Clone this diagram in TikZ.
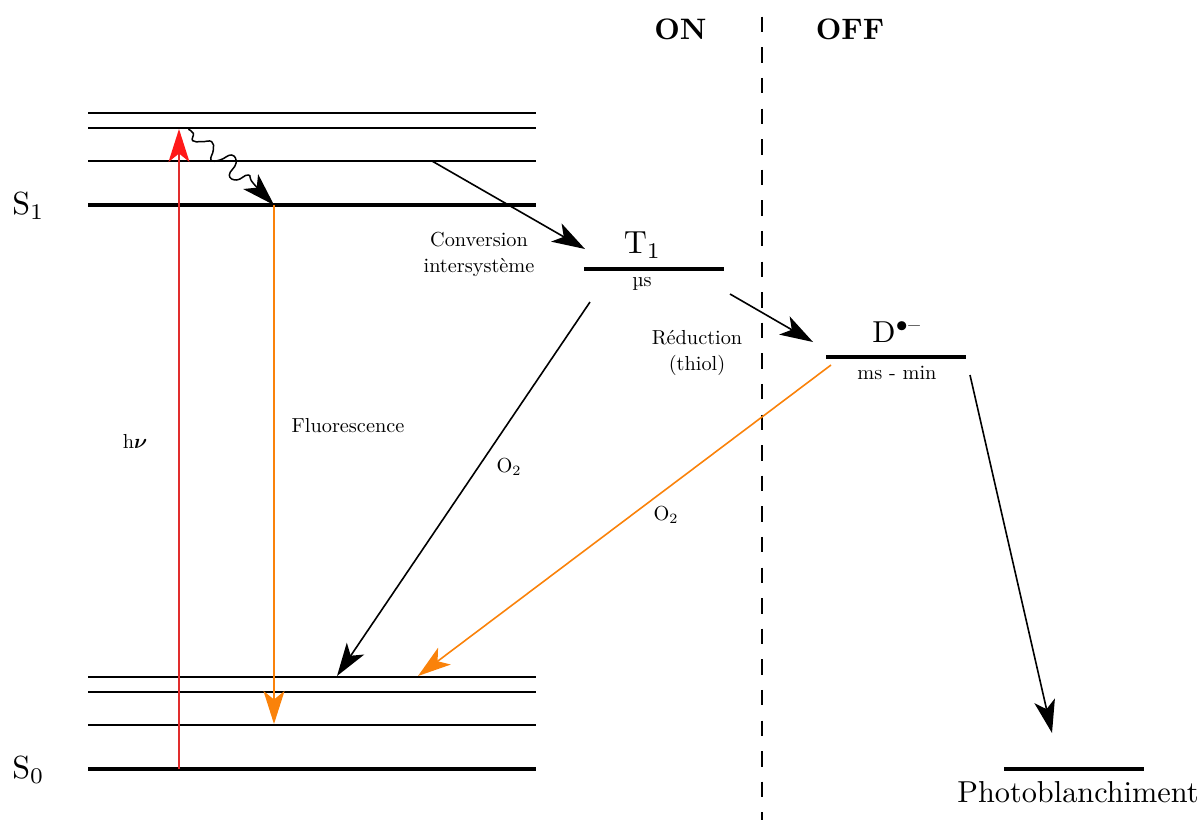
\documentclass[tikz,border=0pt]{standalone}
\usepackage{amsmath,amssymb}
\usetikzlibrary{arrows.meta}
\definecolor{flcol}{RGB}{250,130,10}
\definecolor{redline}{RGB}{225,45,45}
\definecolor{redhead}{RGB}{255,25,25}
\tikzset{
 thinlevel/.style={line width=1.5pt,black},
 thicklevel/.style={line width=3.2pt,black},
 bigtip/.style={-{Stealth[length=33pt,width=21pt,inset=8.5pt]}},
 conn/.style={line width=1.6pt,bigtip},
 lab/.style={inner sep=0pt,align=center,font=\fontsize{10}{12.8}\selectfont,scale=2.03},
 biglab/.style={inner sep=0pt,font=\fontsize{10}{12}\selectfont,scale=3.03},
 hugelab/.style={inner sep=0pt,font=\fontsize{10}{12}\selectfont,scale=3.2},
 boldlab/.style={inner sep=0pt,font=\fontsize{10}{12}\selectfont\bfseries,scale=2.96},
}
\begin{document}
\begin{tikzpicture}[x=1pt,y=-1pt]
\useasboundingbox (0,0) rectangle (1201,820);
% coordinates
\coordinate (a1) at (88,113); \coordinate (a2) at (536,113);
\coordinate (b1) at (88,128); \coordinate (b2) at (536,128);
\coordinate (c1) at (88,161); \coordinate (c2) at (536,161);
\coordinate (s11) at (88,205); \coordinate (s12) at (536,205);
\coordinate (d1) at (88,677); \coordinate (d2) at (536,677);
\coordinate (e1) at (88,692); \coordinate (e2) at (536,692);
\coordinate (f1) at (88,725); \coordinate (f2) at (536,725);
\coordinate (s01) at (88,769); \coordinate (s02) at (536,769);
\coordinate (t1a) at (584,269); \coordinate (t1b) at (724,269);
\coordinate (d1a) at (826,357); \coordinate (d1b) at (966,357);
\coordinate (p1a) at (1004,769); \coordinate (p1b) at (1144,769);
\coordinate (dashtop) at (762,16.7); \coordinate (dashbot) at (762,820);
% levels
\draw[thinlevel] (a1)--(a2); \draw[thinlevel] (b1)--(b2); \draw[thinlevel] (c1)--(c2);
\draw[thicklevel] (s11)--(s12);
\draw[thinlevel] (d1)--(d2); \draw[thinlevel] (e1)--(e2); \draw[thinlevel] (f1)--(f2);
\draw[thicklevel] (s01)--(s02);
\draw[thicklevel] (t1a)--(t1b); \draw[thicklevel] (d1a)--(d1b); \draw[thicklevel] (p1a)--(p1b);
\draw[line width=1.8pt,dash pattern=on 15.5pt off 15.1pt] (dashtop)--(dashbot);
% arrows
\coordinate (hv0) at (179,769); \coordinate (hvm) at (179,150); \coordinate (hv1) at (179,129);
\draw[line width=1.7pt,color=redline] (hv0)--(hvm);
\draw[line width=1.6pt,color=redhead,bigtip] (hvm)--(hv1);
\coordinate (fl0) at (274,205); \coordinate (fl1) at (274,724);
\draw[line width=1.6pt,color=flcol,bigtip] (fl0)--(fl1);
\coordinate (w0) at (188.3,129.3); \coordinate (w1) at (274,205);
\draw[line width=1.5pt,bigtip] plot[smooth,tension=0.8] coordinates {(w0) (193.3,133.3) (192.7,140.7) (201.7,141.7) (211.7,141.7) (213.3,150) (211,160) (220,160) (231.7,155) (236,163.3) (229.3,175) (236.7,180) (248.3,175) (253.3,183.3) (w1)};
\coordinate (isc0) at (432,161); \coordinate (isc1) at (585,249);
\draw[conn] (isc0)--(isc1);
\coordinate (red0) at (730,294); \coordinate (red1) at (813,342);
\draw[conn] (red0)--(red1);
\coordinate (o0) at (590,302); \coordinate (o1) at (337,676);
\draw[conn] (o0)--(o1);
\coordinate (q0) at (831,365); \coordinate (q1) at (418,676);
\draw[conn,color=flcol] (q0)--(q1);
\coordinate (ph0) at (970,375); \coordinate (ph1) at (1052,733);
\draw[conn] (ph0)--(ph1);
% labels
\node[hugelab] (s1) at (28.5,206) {S$_1$};
\node[hugelab] (s0) at (28.5,770) {S$_0$};
\node[hugelab] (t1) at (642.5,245) {T$_1$};
\node[biglab] (dr) at (897,332) {D$^{\bullet\text{--}}$};
\node[biglab] (ph) at (1078,792) {Photoblanchiment};
\node[boldlab] (on) at (680.5,29) {ON};
\node[boldlab] (off) at (850,29) {OFF};
\node[lab] (conv) at (479,254.5) {Conversion\\intersystème};
\node[lab] (mu) at (642,284) {µs};
\node[lab] (redu) at (697,353) {Réduction\\(thiol)};
\node[lab] (ms) at (897,373) {ms - min};
\node[lab] (hn) at (135,441) {h$\boldsymbol{\nu}$};
\node[lab] (flu) at (348,426) {Fluorescence};
\node[lab] (oa) at (509,467) {O$_2$};
\node[lab] (ob) at (666,515) {O$_2$};
\end{tikzpicture}
\end{document}
